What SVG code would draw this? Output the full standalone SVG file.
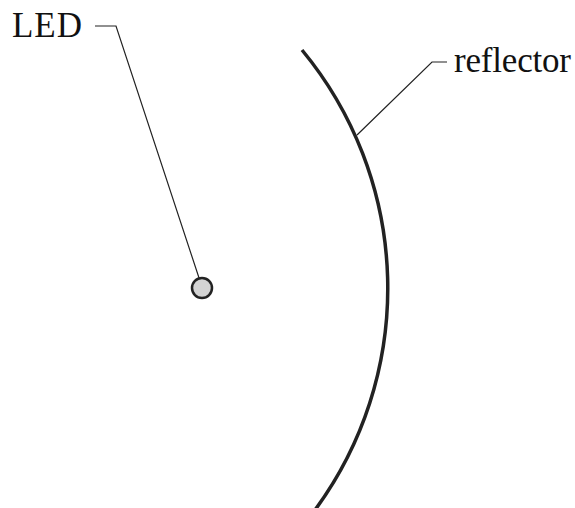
<svg xmlns="http://www.w3.org/2000/svg" width="575" height="508" viewBox="0 0 575 508">
<style>
.lbl{font-family:"Liberation Serif",serif;font-size:35px;fill:#111}
.lead{fill:none;stroke:#222;stroke-width:1.2}
</style>
<rect width="575" height="508" fill="#fff"/>
<g id="connectors">
<polyline class="lead" points="95,26 116,26 202,287"/>
<polyline class="lead" points="357,135 432,62 447,62"/>
</g>
<g id="reflector">
<path d="M302,50 A374,374 0 0 1 315,510" fill="none" stroke="#222" stroke-width="3.5"/>
<text class="lbl" x="454" y="72" textLength="117">reflector</text>
</g>
<g id="led">
<circle cx="202" cy="288" r="10" fill="#d3d3d3" stroke="#222" stroke-width="2.5"/>
<text class="lbl" x="12" y="37" textLength="70">LED</text>
</g>
</svg>
